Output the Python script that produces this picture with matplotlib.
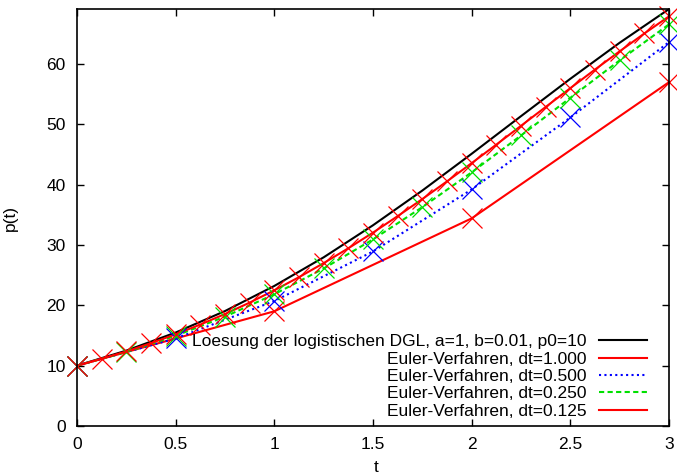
import numpy as np
import matplotlib.pyplot as plt

plt.rcParams['font.family'] = ['Liberation Sans', 'DejaVu Sans']

# exact solution of the logistic ODE
t_exact = [0, 0.25, 0.5, 0.75, 1.0, 1.25, 1.5, 1.75, 2.0, 2.25, 2.5, 2.75, 3.0]
p_exact = [10.0, 12.49, 15.48, 19.04, 23.20, 27.94, 33.25, 39.00, 45.09,
           51.32, 57.51, 63.48, 69.06]

# Euler steps
t_1 = [0, 1, 2, 3]
p_1 = [10.0, 19.0, 34.39, 56.95]

t_05 = [0, 0.5, 1.0, 1.5, 2.0, 2.5, 3.0]
p_05 = [10.0, 14.5, 20.70, 28.91, 39.18, 51.10, 63.59]

t_025 = [0, 0.25, 0.5, 0.75, 1.0, 1.25, 1.5, 1.75, 2.0, 2.25, 2.5, 2.75, 3.0]
p_025 = [10.0, 12.25, 14.94, 18.11, 21.82, 26.09, 30.91, 36.25, 42.02,
         48.12, 54.36, 60.56, 66.53]

t_0125 = [0, 0.125, 0.25, 0.375, 0.5, 0.625, 0.75, 0.875, 1.0, 1.125, 1.25,
          1.375, 1.5, 1.625, 1.75, 1.875, 2.0, 2.125, 2.25, 2.375, 2.5,
          2.625, 2.75, 2.875, 3.0]
p_0125 = [10.0, 11.13, 12.36, 13.72, 15.19, 16.81, 18.55, 20.44, 22.48,
          24.65, 26.98, 29.44, 32.03, 34.76, 37.59, 40.52, 43.54, 46.61,
          49.72, 52.84, 55.96, 59.04, 62.06, 65.01, 67.85]

labels = ["Loesung der logistischen DGL, a=1, b=0.01, p0=10",
          "Euler-Verfahren, dt=1.000",
          "Euler-Verfahren, dt=0.500",
          "Euler-Verfahren, dt=0.250",
          "Euler-Verfahren, dt=0.125"]

red = "#ff0000"
blue = "#0000ff"
green = "#00e000"
fs = 12.5

fig = plt.figure(figsize=(6.77, 4.76), dpi=100)
ax = fig.add_axes([0.1137, 0.105, 0.8745, 0.876])

lw = 1.5
ms = 14.5
ax.plot(t_exact, p_exact, color="black", lw=lw, label=labels[0])
ax.plot(t_1, p_1, color=red, lw=lw, label=labels[1])
ax.plot(t_05, p_05, color=blue, lw=lw, ls=(0, (1, 1.6)), label=labels[2])
ax.plot(t_025, p_025, color=green, lw=lw, ls=(0, (2.5, 1.6)), label=labels[3])
ax.plot(t_0125, p_0125, color=red, lw=lw, label=labels[4])

# crosses on the Euler points
for t, p, c in [(t_1, p_1, red), (t_05, p_05, blue),
                (t_025, p_025, green), (t_0125, p_0125, red)]:
    ax.plot(t, p, ls="none", marker="x", ms=ms, mew=0.9, color=c, clip_on=False)

ax.set_xlim(0, 3)
ax.set_ylim(0, 69.06)
ax.set_xticks([0, 0.5, 1, 1.5, 2, 2.5, 3])
ax.set_xticklabels(["0", "0.5", "1", "1.5", "2", "2.5", "3"])
ax.set_yticks(range(0, 70, 10))
ax.tick_params(direction="in", length=5, width=1, top=True, right=True,
               labelsize=fs, pad=8)
for s in ax.spines.values():
    s.set_linewidth(1.2)

ax.set_xlabel("t", fontsize=fs)
ax.set_ylabel("p(t)", fontsize=fs)
ax.xaxis.set_label_coords(0.505, -0.082)
ax.yaxis.set_label_coords(-0.1, 0.5)

ax.legend(loc="lower right", bbox_to_anchor=(0.984, -0.012), frameon=False,
          markerfirst=False, alignment="right", fontsize=fs,
          handlelength=2.8, handletextpad=0.7, labelspacing=0.13,
          borderpad=0.2)

fig.savefig("out.png", dpi=100)
